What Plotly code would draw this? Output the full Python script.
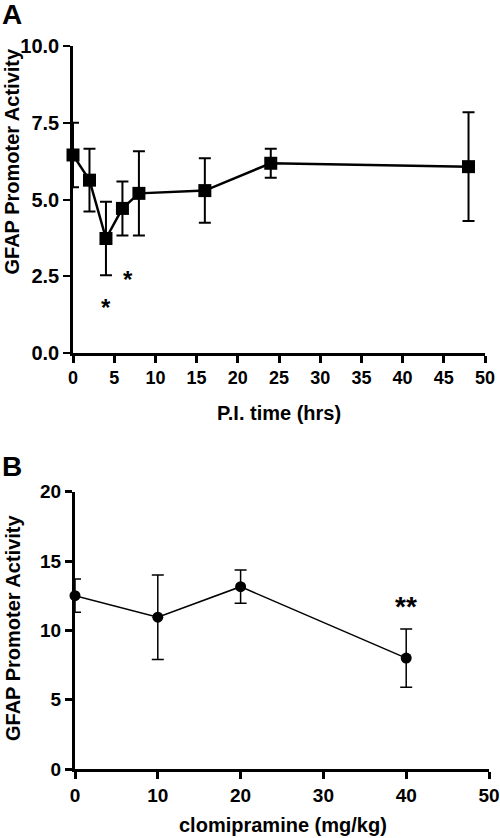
import plotly.graph_objects as go

# Panel A: GFAP promoter activity over post-injection time
time_hrs = [0, 2, 4, 6, 8, 16, 24, 48]
activity_a = [6.45, 5.63, 3.73, 4.71, 5.20, 5.29, 6.18, 6.07]
err_a = [1.05, 1.02, 1.20, 0.88, 1.37, 1.05, 0.47, 1.77]
stars_a_x = [4, 6.7]
stars_a_y = [1.63, 2.57]
stars_a_text = ["*", "*"]

# Panel B: GFAP promoter activity vs clomipramine dose
dose = [0, 10, 20, 40]
activity_b = [12.5, 10.95, 13.15, 8.0]
err_b = [1.2, 3.05, 1.2, 2.1]
stars_b_x = [40]
stars_b_y = [12.06]
stars_b_text = ["**"]

xticks_a = [0, 5, 10, 15, 20, 25, 30, 35, 40, 45, 50]
yticks_a = [0, 2.5, 5, 7.5, 10]
yticklabels_a = ["0.0", "2.5", "5.0", "7.5", "10.0"]
xticks_b = [0, 10, 20, 30, 40, 50]
yticks_b = [0, 5, 10, 15, 20]

FONT = "Liberation Sans, Arial, Helvetica, sans-serif"
W, H = 500, 838

def px_x(p):
    return p / W

def px_y(p):
    return 1 - p / H

fig = go.Figure()

fig.add_trace(go.Scatter(
    x=time_hrs, y=activity_a, mode="lines+markers",
    line=dict(color="black", width=2.5),
    marker=dict(symbol="square", size=13, color="black"),
    error_y=dict(type="data", array=err_a, color="black", thickness=2, width=6),
    xaxis="x", yaxis="y", cliponaxis=False, showlegend=False,
))

fig.add_trace(go.Scatter(
    x=dose, y=activity_b, mode="lines+markers",
    line=dict(color="black", width=1.5),
    marker=dict(symbol="circle", size=11, color="black"),
    error_y=dict(type="data", array=err_b, color="black", thickness=1.5, width=6),
    xaxis="x2", yaxis="y2", cliponaxis=False, showlegend=False,
))

def tf(size):
    return dict(family=FONT, size=size, color="black", weight="bold")

axis_common = dict(showgrid=False, zeroline=False, showline=True, linecolor="black",
                   ticks="outside", tickcolor="black", ticklen=7, automargin=False)

fig.update_layout(
    width=W, height=H,
    margin=dict(l=0, r=0, t=0, b=0, autoexpand=False),
    paper_bgcolor="white", plot_bgcolor="white",
    xaxis=dict(domain=[px_x(73), px_x(485)], range=[0, 50], tickvals=xticks_a,
               anchor="y", linewidth=2.5, tickwidth=2.5, tickfont=tf(18), **axis_common),
    yaxis=dict(domain=[px_y(353), px_y(46)], range=[0, 10], tickvals=yticks_a,
               ticktext=yticklabels_a, anchor="x", linewidth=2.5, tickwidth=2,
               tickfont=tf(20), **axis_common),
    xaxis2=dict(domain=[px_x(75), px_x(489)], range=[0, 50], tickvals=xticks_b,
                anchor="y2", linewidth=3, tickwidth=3, tickfont=tf(19), **axis_common),
    yaxis2=dict(domain=[px_y(769), px_y(491.7)], range=[0, 20], tickvals=yticks_b,
                anchor="x2", linewidth=3, tickwidth=3, tickfont=tf(19), **axis_common),
)

annotations = []
label_font = tf(20)
annotations.append(dict(text="GFAP Promoter Activity", xref="paper", yref="paper",
                        x=px_x(11.5), y=px_y(162), textangle=-90, showarrow=False,
                        font=label_font, xanchor="center", yanchor="middle"))
annotations.append(dict(text="GFAP Promoter Activity", xref="paper", yref="paper",
                        x=px_x(13), y=px_y(628), textangle=-90, showarrow=False,
                        font=label_font, xanchor="center", yanchor="middle"))
annotations.append(dict(text="P.I. time (hrs)", xref="paper", yref="paper",
                        x=px_x(279), y=px_y(413), showarrow=False,
                        font=label_font, xanchor="center", yanchor="middle"))
annotations.append(dict(text="clomipramine (mg/kg)", xref="paper", yref="paper",
                        x=px_x(283), y=px_y(825), showarrow=False,
                        font=label_font, xanchor="center", yanchor="middle"))
annotations.append(dict(text="A", xref="paper", yref="paper", x=0, y=px_y(-3),
                        showarrow=False, xanchor="left", yanchor="top", font=tf(28)))
annotations.append(dict(text="B", xref="paper", yref="paper", x=0, y=px_y(449),
                        showarrow=False, xanchor="left", yanchor="top", font=tf(28)))
for sx, sy, st in zip(stars_a_x, stars_a_y, stars_a_text):
    annotations.append(dict(text=st, x=sx, y=sy, xref="x", yref="y", showarrow=False,
                            yshift=-5, font=tf(24)))
for sx, sy, st in zip(stars_b_x, stars_b_y, stars_b_text):
    annotations.append(dict(text=st, x=sx, y=sy, xref="x2", yref="y2", showarrow=False,
                            yshift=-5, font=tf(28)))
fig.update_layout(annotations=annotations)

fig.write_html("out.html", config={"displayModeBar": False},
               post_script="document.body.style.margin='0';document.body.style.overflow='hidden';")
